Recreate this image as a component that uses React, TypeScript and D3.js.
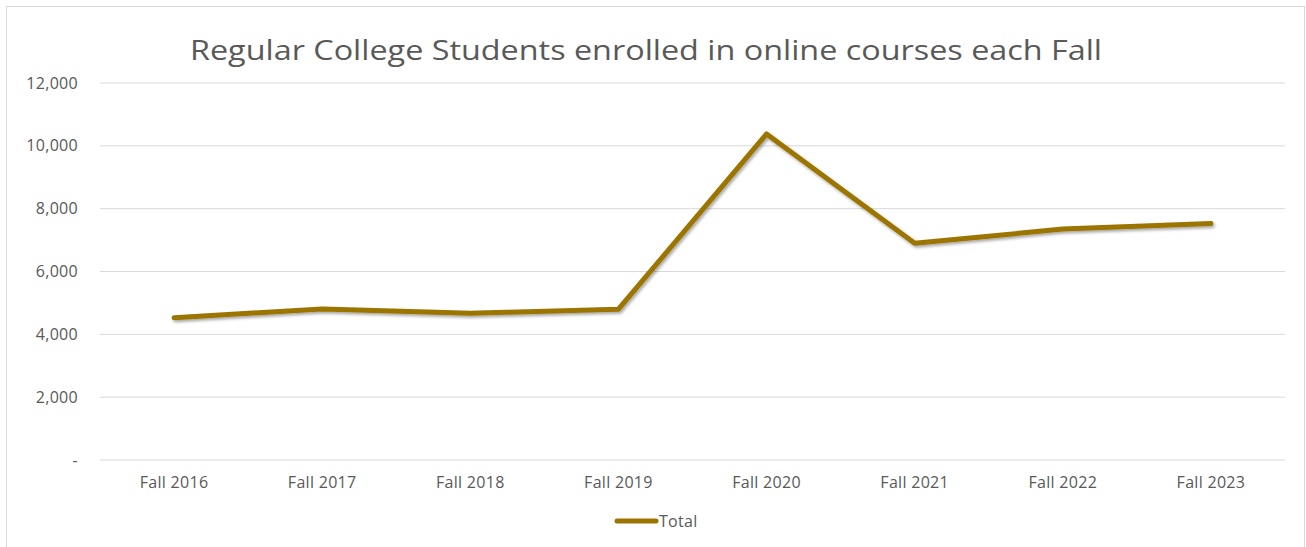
import React from "react";
import * as d3 from "d3";

const categories = ["Fall 2016", "Fall 2017", "Fall 2018", "Fall 2019", "Fall 2020", "Fall 2021", "Fall 2022", "Fall 2023"];
const totals = [4530, 4810, 4670, 4800, 10380, 6900, 7350, 7530];
const yTicks = [0, 2000, 4000, 6000, 8000, 10000, 12000];
const title = "Regular College Students enrolled in online courses each Fall";
const seriesName = "Total";

const W = 1306, H = 547;
const left = 100, right = 1285, top = 83, bottom = 460;
const FONT = "'Open Sans', Lato, sans-serif";
const TEXT = "#595959";
const LINE = "#9C7500";

export default function App() {
  const x = d3.scaleBand<string>().domain(categories).range([left, right]).padding(0);
  const y = d3.scaleLinear().domain([0, 12000]).range([bottom, top]);
  const line = d3.line<number>()
    .x((_, i) => (x(categories[i]) as number) + x.bandwidth() / 2)
    .y((d) => y(d));
  const fmt = d3.format(",");
  return (
    <svg width={W} height={H} style={{ position: "absolute", left: 0, top: 0, background: "#fff" }}>
      <defs>
        <filter id="sh" x="-5%" y="-20%" width="110%" height="140%">
          <feDropShadow dx="1.5" dy="2" stdDeviation="1.5" floodColor="#000" floodOpacity="0.35" />
        </filter>
      </defs>
      <rect x={6.5} y={6.5} width={1298} height={560} fill="#fff" stroke="#d9d9d9" strokeWidth={1} />
      <text x={190} y={60} textLength={912} lengthAdjust="spacingAndGlyphs" fontFamily={FONT} fontSize={28} fill={TEXT}>{title}</text>
      {yTicks.map((t) => (
        <g key={t}>
          <line x1={left} x2={right} y1={y(t)} y2={y(t)} stroke="#d9d9d9" strokeWidth={1} />
          <text x={78} y={y(t)} dy="0.35em" textAnchor="end" fontFamily={FONT} fontSize={16} letterSpacing={0.3} fill={TEXT}>
            {t === 0 ? "-" : fmt(t)}
          </text>
        </g>
      ))}
      {categories.map((c) => (
        <text key={c} x={(x(c) as number) + x.bandwidth() / 2} y={488} textAnchor="middle" fontFamily={FONT} fontSize={16} letterSpacing={0.3} fill={TEXT}>{c}</text>
      ))}
      <path d={line(totals) || ""} fill="none" stroke={LINE} strokeWidth={5} strokeLinejoin="round" strokeLinecap="round" filter="url(#sh)" />
      <line x1={617} x2={656} y1={521} y2={521} stroke={LINE} strokeWidth={5} strokeLinecap="round" />
      <text x={659} y={521} dy="0.35em" fontFamily={FONT} fontSize={16} letterSpacing={0.3} fill={TEXT}>{seriesName}</text>
    </svg>
  );
}
